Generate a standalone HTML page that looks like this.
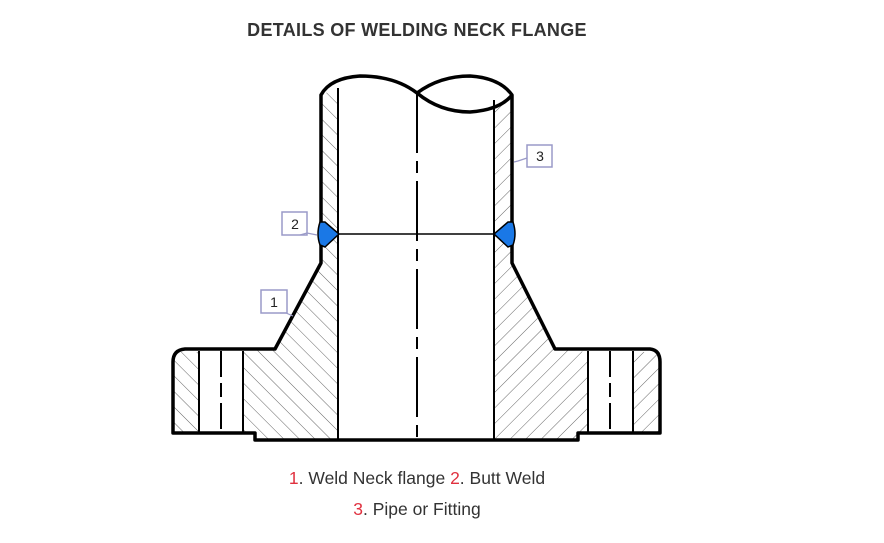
<!DOCTYPE html>
<html><head><meta charset="utf-8"><style>
body{margin:0;background:#fff;width:884px;height:543px;overflow:hidden;font-family:"Liberation Sans",sans-serif}
.t{position:absolute;left:0;width:834px;text-align:center;color:#333}
.r{color:#e0313f}
</style></head><body>
<div class="t" style="top:20px;font-weight:bold;font-size:18px;letter-spacing:0.3px">DETAILS OF WELDING NECK FLANGE</div>
<div class="t" style="top:468px;font-size:17.5px;left:0;width:834px">
<span class="r">1</span>. Weld Neck flange <span class="r">2</span>. Butt Weld</div>
<div class="t" style="top:499px;font-size:17.5px"><span class="r">3</span>. Pipe or Fitting</div>
<svg width="884" height="543" style="position:absolute;left:0;top:0">
<defs>
<pattern id="hl" patternUnits="userSpaceOnUse" width="11" height="11" patternTransform="rotate(-45)">
<line x1="0" y1="0" x2="0" y2="11" stroke="#666" stroke-width="1"/></pattern>
<pattern id="hr" patternUnits="userSpaceOnUse" width="11" height="11" patternTransform="rotate(45)">
<line x1="0" y1="0" x2="0" y2="11" stroke="#666" stroke-width="1"/></pattern>
</defs>
<path d="M321,95 L338,88 L338,440 L255,440 L255,433 L243,433 L243,352 L275,349 L321,263 Z" fill="url(#hl)"/>
<path d="M173,352 L199,352 L199,433 L173,433 Z" fill="url(#hl)"/>
<path d="M494,100 L512,95 L512,263 L555,349 L588,352 L588,433 L578,433 L578,440 L494,440 Z" fill="url(#hr)"/>
<path d="M633,352 L660,352 L660,433 L633,433 Z" fill="url(#hr)"/>
<g fill="none" stroke="#000" stroke-width="3.5" stroke-linejoin="round">
<path d="M321,263 L321,95 Q330,78 360,76 Q395,76 417,93 Q440,76 470,76 Q500,78 512,95 L512,263 L555,349 L650,349 Q660,350 660,362 L660,433 L578,433 L578,440 L255,440 L255,433 L173,433 L173,362 Q173,350 185,349 L275,349 Z"/>
<path d="M417,93 Q440,112 470,112 Q500,110 512,95"/>
</g>
<g stroke="#000" stroke-width="2">
<line x1="338" y1="88" x2="338" y2="440"/>
<line x1="494" y1="100" x2="494" y2="440"/>
<line x1="417" y1="93" x2="417" y2="440" stroke-dasharray="60,8,12,8"/>
<line x1="199" y1="351" x2="199" y2="433"/>
<line x1="243" y1="351" x2="243" y2="433"/>
<line x1="588" y1="351" x2="588" y2="433"/>
<line x1="633" y1="351" x2="633" y2="433"/>
<line x1="221" y1="351" x2="221" y2="433" stroke-dasharray="26,6,14,6"/>
<line x1="610" y1="351" x2="610" y2="433" stroke-dasharray="26,6,14,6"/>
<line x1="338" y1="234" x2="494" y2="234" stroke-width="1.5"/>
</g>
<path d="M320,222 L325,222 L339,234 L325,247 L320,245 Q316,234 320,222 Z" fill="#1a78e6" stroke="#000" stroke-width="1.5"/>
<path d="M513,222 L508,222 L494,234 L508,247 L513,245 Q517,234 513,222 Z" fill="#1a78e6" stroke="#000" stroke-width="1.5"/>
<g fill="#fff" stroke="#9a9ac8" stroke-width="1.5">
<rect x="527" y="145" width="25" height="22"/>
<rect x="282" y="212" width="25" height="23"/>
<rect x="261" y="290" width="26" height="23"/>
</g>
<g fill="none" stroke="#9a9ac8" stroke-width="1.2">
<path d="M527,158 L518,161 L514,162"/>
<path d="M300,235 L307,233 L317,235"/>
<path d="M280,313 L286,313 L293,316"/>
</g>
<g font-family="Liberation Sans,sans-serif" font-size="14" fill="#222" text-anchor="middle">
<text x="540" y="161">3</text>
<text x="295" y="229">2</text>
<text x="274" y="307">1</text>
</g>
</svg>
</body></html>
